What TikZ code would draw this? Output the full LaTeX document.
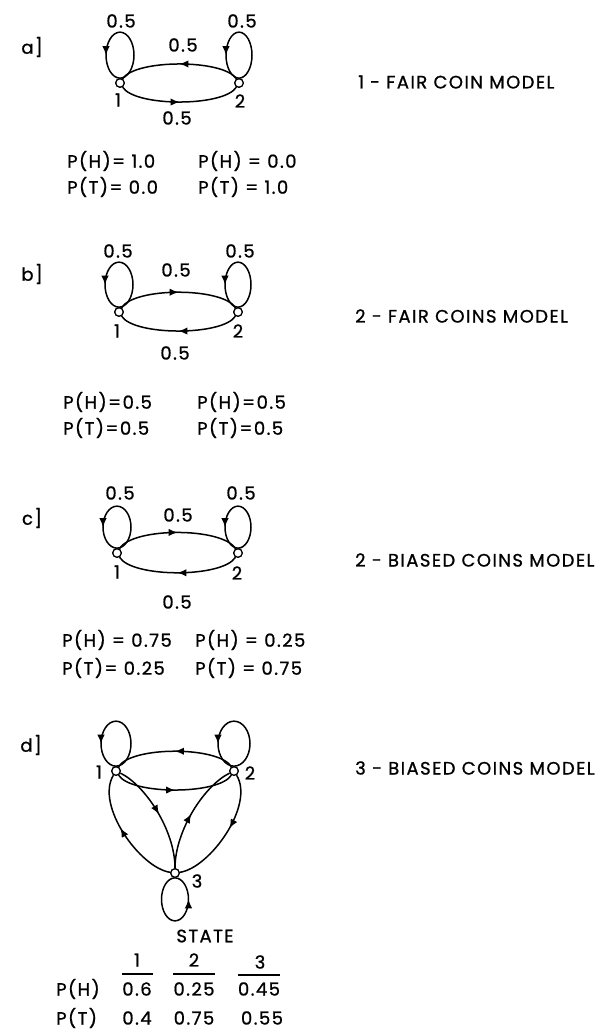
\documentclass[tikz,border=0pt]{standalone}
\usepackage{fontspec}
\setmainfont{Poppins}[LetterSpace=8,FakeBold=0.9]
\usetikzlibrary{arrows.meta,decorations.markings}
\begin{document}
\begin{tikzpicture}[x=1pt,y=-1pt,
  statenode/.style={circle,draw,fill=white,line width=1.2pt,minimum size=8.5pt,inner sep=0pt},
  link/.style={line width=1.5pt},
  midarrow/.style={postaction={decorate},decoration={markings,
    mark=at position #1 with {\arrow{Latex[length=9pt,width=7.5pt]}}}},
  midarrow/.default=0.5,
  txt/.style={font=\fontsize{18}{18}\selectfont,inner sep=0pt},
  leftxt/.style={txt,anchor=west},
  modeltitle/.style={txt,anchor=west},
]
\fill[white] (0,0) rectangle (608,1030);
\useasboundingbox (0,0) rectangle (608,1030);

% ---------------- a) one fair coin ----------------
\node[txt] (la) at (32,47) {a]};
\node[statenode] (a1) at (120,83) {};
\node[statenode] (a2) at (239,83) {};
\draw[link,midarrow] (a2) .. controls +(-15,-24) and +(15,-24) .. (a1);
\draw[link,midarrow] (a1) .. controls +(15,24) and +(-15,24) .. (a2);
\draw[link,midarrow=0.75] (a1.north) arc[start angle=90,end angle=-270,x radius=14,y radius=23];
\draw[link,midarrow=0.75] (a2.north) arc[start angle=90,end angle=-270,x radius=13,y radius=23];
\node[statenode] at (a1) {};
\node[statenode] at (a2) {};
\node[txt] at (121,21) {0.5};
\node[txt] at (242,21) {0.5};
\node[txt] at (183,45) {0.5};
\node[txt] at (177,118) {0.5};
\node[txt] at (118,100) {1};
\node[txt] at (240,101) {2};
\node[leftxt] at (67,161) {P(H)= 1.0};
\node[leftxt] at (67,187) {P(T)= 0.0};
\node[leftxt] at (198,161) {P(H) = 0.0};
\node[leftxt] at (198,187) {P(T) = 1.0};
\node[modeltitle] at (358,82) {1 - FAIR COIN MODEL};

% ---------------- b) two fair coins ----------------
\node[txt] (lb) at (32,274) {b]};
\node[statenode] (b1) at (119,312) {};
\node[statenode] (b2) at (238,312) {};
\draw[link,midarrow] (b1) .. controls +(15,-25) and +(-15,-25) .. (b2);
\draw[link,midarrow] (b2) .. controls +(-15,24) and +(15,24) .. (b1);
\draw[link,midarrow=0.75] (b1.north) arc[start angle=90,end angle=-270,x radius=14,y radius=22.5];
\draw[link,midarrow=0.75] (b2.north) arc[start angle=90,end angle=-270,x radius=13,y radius=22.5];
\node[statenode] at (b1) {};
\node[statenode] at (b2) {};
\node[txt] at (118,251) {0.5};
\node[txt] at (240,251) {0.5};
\node[txt] at (176,270) {0.5};
\node[txt] at (175,353) {0.5};
\node[txt] at (117,331) {1};
\node[txt] at (238,331) {2};
\node[leftxt] at (63,402) {P(H)=0.5};
\node[leftxt] at (63,428) {P(T)=0.5};
\node[leftxt] at (197,402) {P(H)=0.5};
\node[leftxt] at (197,428) {P(T)=0.5};
\node[modeltitle] at (355,316) {2 - FAIR COINS MODEL};

% ---------------- c) two biased coins ----------------
\node[txt] (lc) at (32,518) {c]};
\node[statenode] (c1) at (117,553) {};
\node[statenode] (c2) at (238,553) {};
\draw[link,midarrow] (c1) .. controls +(15,-26) and +(-15,-26) .. (c2);
\draw[link,midarrow] (c2) .. controls +(-15,25) and +(15,25) .. (c1);
\draw[link,midarrow=0.75] (c1.north) arc[start angle=90,end angle=-270,x radius=14,y radius=21];
\draw[link,midarrow=0.75] (c2.north) arc[start angle=90,end angle=-270,x radius=13,y radius=21];
\node[statenode] at (c1) {};
\node[statenode] at (c2) {};
\node[txt] at (120,493) {0.5};
\node[txt] at (241,493) {0.5};
\node[txt] at (178,515) {0.5};
\node[txt] at (177,602) {0.5};
\node[txt] at (117,572) {1};
\node[txt] at (237,573) {2};
\node[leftxt] at (62,640) {P(H) = 0.75};
\node[leftxt] at (62,668) {P(T)= 0.25};
\node[leftxt] at (195,640) {P(H) = 0.25};
\node[leftxt] at (195,668) {P(T) = 0.75};
\node[modeltitle] at (355,560) {2 - BIASED COINS MODEL};

% ---------------- d) three biased coins ----------------
\node[txt] (ld) at (31,745) {d]};
\node[statenode] (d1) at (116,771) {};
\node[statenode] (d2) at (234,771) {};
\node[statenode] (d3) at (175,873) {};
\draw[link,midarrow] (d2) .. controls +(-15,-25) and +(15,-25) .. (d1);
\draw[link,midarrow] (d1) .. controls +(15,24) and +(-15,24) .. (d2);
\draw[link,midarrow=0.75] (d1.north) arc[start angle=90,end angle=-270,x radius=15,y radius=22.5];
\draw[link,midarrow=0.75] (d2.north) arc[start angle=90,end angle=-270,x radius=16,y radius=22.5];
% state 3 and its links to states 1 and 2
\draw[link,midarrow=0.55] (d3) .. controls (140,868) and (95,805) .. (d1);
\draw[link,midarrow] (d1) .. controls (145,785) and (175,830) .. (d3);
\draw[link,midarrow] (d3) .. controls (175,830) and (205,785) .. (d2);
\draw[link,midarrow=0.45] (d2) .. controls (255,805) and (210,868) .. (d3);
\draw[link,midarrow=0.75] (d3.south) arc[start angle=-90,end angle=-450,x radius=13.5,y radius=21.5];
\node[statenode] at (d1) {};
\node[statenode] at (d2) {};
\node[statenode] at (d3) {};
\node[txt] at (99,772) {1};
\node[txt] at (250,773) {2};
\node[txt] at (197,881) {3};
\node[modeltitle] at (355,768) {3 - BIASED COINS MODEL};

% emission table
\node[txt] at (205,936) {STATE};
\node[txt] at (137,960) {1};
\node[txt] at (194,960) {2};
\node[txt] at (260,962) {3};
\draw[line width=1.4pt] (122,974) -- (153,974);
\draw[line width=1.4pt] (173,974) -- (215,974);
\draw[line width=1.4pt] (238,975) -- (280,975);
\node[leftxt] at (56,989) {P(H)};
\node[leftxt] at (56,1018) {P(T)};
\node[txt] at (137,989) {0.6};
\node[txt] at (194,989) {0.25};
\node[txt] at (259,989) {0.45};
\node[txt] at (137,1018) {0.4};
\node[txt] at (194,1018) {0.75};
\node[txt] at (262,1018) {0.55};
\end{tikzpicture}
\end{document}
